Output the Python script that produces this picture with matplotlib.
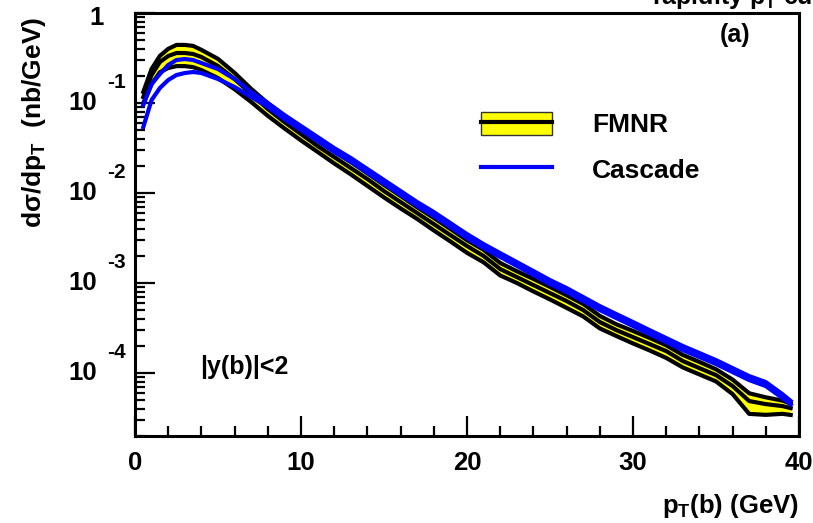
import matplotlib
matplotlib.use('Agg')
import matplotlib.pyplot as plt
import matplotlib.transforms as mtransforms
from matplotlib.ticker import LogLocator, NullFormatter, MultipleLocator, FixedLocator
from matplotlib.patches import Patch
from matplotlib.lines import Line2D
from matplotlib.legend_handler import HandlerTuple

plt.rcParams['font.family'] = ['Liberation Sans', 'DejaVu Sans']
plt.rcParams['font.weight'] = 'bold'
plt.rcParams['mathtext.fontset'] = 'custom'
plt.rcParams['mathtext.rm'] = 'Liberation Sans:bold'
plt.rcParams['mathtext.it'] = 'Liberation Sans:bold'
plt.rcParams['mathtext.bf'] = 'Liberation Sans:bold'

# ---------------- data ----------------
pt = [0.5, 1.0, 1.5, 2.0, 2.5, 3.0, 3.5, 4.0, 5, 6, 7, 8, 9, 10, 11, 12, 13, 14,
      15, 16, 17, 18, 19, 20, 21, 22, 23, 24, 25, 26, 27, 28, 29, 30, 31, 32, 33,
      34, 35, 36, 37, 38, 39, 39.5]

fmnr_central = [0.1166, 0.2047, 0.2855, 0.3330, 0.3594, 0.3594, 0.3503, 0.3246,
                0.2577, 0.1848, 0.1259, 0.0858, 0.0615, 0.0452, 0.0333, 0.0251,
                0.01896, 0.01430, 0.01052, 0.00794, 0.00599, 0.00452, 0.00341,
                0.00258, 0.00200, 0.00143, 0.001166, 9.50e-4, 7.74e-4, 6.31e-4,
                5.01e-4, 3.69e-4, 3.00e-4, 2.51e-4, 2.10e-4, 1.755e-4, 1.36e-4,
                1.136e-4, 9.50e-5, 7.17e-5, 4.89e-5, 4.52e-5, 4.30e-5, 4.08e-5]

# ratio of upper / lower scale variation to central FMNR prediction
fmnr_ratio_up = [1.14, 1.17, 1.17, 1.20, 1.23, 1.23, 1.23, 1.20, 1.20, 1.17, 1.14,
                 1.16, 1.17, 1.17, 1.16, 1.17, 1.17, 1.16, 1.17, 1.17, 1.16, 1.17,
                 1.17, 1.16, 1.17, 1.17, 1.16, 1.17, 1.17, 1.16, 1.17, 1.17, 1.16,
                 1.17, 1.17, 1.16, 1.17, 1.17, 1.16, 1.18, 1.22, 1.19, 1.15, 1.13]
fmnr_ratio_down = [0.86, 0.79, 0.77, 0.735, 0.715, 0.715, 0.715, 0.715, 0.735,
                   0.77, 0.815, 0.84, 0.85, 0.85, 0.86, 0.85, 0.85, 0.84, 0.85,
                   0.85, 0.86, 0.85, 0.85, 0.84, 0.85, 0.85, 0.86, 0.85, 0.85,
                   0.84, 0.85, 0.85, 0.86, 0.85, 0.85, 0.84, 0.85, 0.85, 0.85,
                   0.815, 0.72, 0.76, 0.82, 0.84]

cascade_high = [0.0950, 0.1626, 0.2101, 0.2644, 0.3004, 0.3082, 0.3004, 0.2783,
                0.2386, 0.1848, 0.1325, 0.1000, 0.0736, 0.0555, 0.0419, 0.0316,
                0.0245, 0.01848, 0.01394, 0.01052, 0.00794, 0.00615, 0.00464,
                0.00350, 0.00271, 0.00215, 0.00171, 0.00136, 0.00108, 8.80e-4,
                6.99e-4, 5.55e-4, 4.52e-4, 3.69e-4, 3.00e-4, 2.45e-4, 2.00e-4,
                1.67e-4, 1.394e-4, 1.136e-4, 9.26e-5, 7.94e-5, 5.84e-5, 4.90e-5]

cascade_low = [0.0541, 0.1080, 0.1468, 0.1801, 0.2047, 0.2154, 0.2210, 0.2154,
               0.1848, 0.1506, 0.1166, 0.0903, 0.0664, 0.0501, 0.0378, 0.0285,
               0.0221, 0.01668, 0.01259, 0.00950, 0.00717, 0.00555, 0.00419,
               0.00316, 0.00245, 0.00195, 0.00155, 0.001227, 9.75e-4, 7.94e-4,
               6.31e-4, 5.01e-4, 4.08e-4, 3.33e-4, 2.71e-4, 2.21e-4, 1.80e-4,
               1.506e-4, 1.259e-4, 1.026e-4, 8.36e-5, 7.17e-5, 5.28e-5, 4.45e-5]

y_decades = [1e-4, 1e-3, 1e-2, 1e-1]
y_exponents = ['-4', '-3', '-2', '-1']

fmnr_high = [c * r for c, r in zip(fmnr_central, fmnr_ratio_up)]
fmnr_low = [c * r for c, r in zip(fmnr_central, fmnr_ratio_down)]

# ---------------- figure ----------------
W, H = 813, 523
fig = plt.figure(figsize=(W / 100, H / 100), dpi=100)
L, R, T, B = 135, 799, 13, 436
ax = fig.add_axes([L / W, 1 - B / H, (R - L) / W, (B - T) / H])

YELLOW = '#ffff00'
BLUE = '#0000ff'

ax.fill_between(pt, fmnr_low, fmnr_high, color=YELLOW, lw=0, zorder=1)
for s in (fmnr_high, fmnr_central, fmnr_low):
    ax.plot(pt, s, color='black', lw=3.0, zorder=2, solid_joinstyle='round')
for s in (cascade_high, cascade_low):
    ax.plot(pt, s, color=BLUE, lw=3.0, zorder=3, solid_joinstyle='round')

ax.set_yscale('log')
ax.set_xlim(0, 40)
ax.set_ylim(2e-5, 1.0)

for sp in ax.spines.values():
    sp.set_linewidth(2.2)

ax.xaxis.set_major_locator(MultipleLocator(10))
ax.xaxis.set_minor_locator(MultipleLocator(2))
ax.yaxis.set_major_locator(FixedLocator([1e-4, 1e-3, 1e-2, 1e-1, 1.0]))
ax.yaxis.set_minor_locator(LogLocator(base=10, subs=range(2, 10)))
ax.yaxis.set_major_formatter(NullFormatter())
ax.yaxis.set_minor_formatter(NullFormatter())
ax.tick_params(which='both', direction='in', top=False, right=False)
ax.tick_params(which='major', length=14.4, width=1.6)
ax.tick_params(which='minor', length=7.0, width=1.6)
ax.tick_params(axis='x', which='major', labelsize=18.5, pad=11)

# ROOT style y labels: "10" with exponent above-right
tr = mtransforms.blended_transform_factory(ax.transAxes, ax.transData)
tr_up = mtransforms.offset_copy(tr, fig=fig, x=0, y=21, units='dots')
for v, e in zip(y_decades, y_exponents):
    ax.text((97 - L) / (R - L), v, '10', transform=tr, ha='right', va='center',
            fontsize=18.5, fontweight='bold')
    ax.text((126 - L) / (R - L), v, e, transform=tr_up, ha='right', va='center',
            fontsize=15, fontweight='bold')
tr_one = mtransforms.offset_copy(tr, fig=fig, x=0, y=-5, units='dots')
ax.text((104 - L) / (R - L), 1.0, '1', transform=tr_one, ha='right', va='center',
        fontsize=18.5, fontweight='bold')

ax.set_ylabel('dσ/dp$_{T}$  (nb/GeV)', fontsize=19, fontweight='bold',
              ha='right', va='center')
ax.yaxis.set_label_coords((34 - L) / (R - L), (B - 17) / (B - T))
ax.set_xlabel('p$_{T}$(b) (GeV)', fontsize=18.5, fontweight='bold',
              ha='right', va='center')
ax.xaxis.set_label_coords(1.0, (B - 506) / (B - T))

ax.text((750 - L) / (R - L), (B - 35) / (B - T), '(a)', transform=ax.transAxes,
        ha='right', va='center', fontsize=18, fontweight='bold')
ax.text((200 - L) / (R - L), (B - 367) / (B - T), '|y(b)|<2', transform=ax.transAxes,
        ha='left', va='center', fontsize=18, fontweight='bold')

# partially visible title at the very top (only its lower part is inside the picture)
fig.text(652 / W, 1 - 4 / H, 'rapidity p$_{T}$ cut', ha='left', va='baseline',
         fontsize=18, fontweight='bold')

fmnr_handle = (Patch(facecolor=YELLOW, edgecolor='#333333', linewidth=1.0),
               Line2D([], [], color='black', lw=3.0))
cascade_handle = Line2D([], [], color=BLUE, lw=3.0)
ax.legend([fmnr_handle, cascade_handle], ['FMNR', 'Cascade'],
          handler_map={tuple: HandlerTuple(ndivide=1, pad=0)},
          loc='upper left', bbox_to_anchor=((481 - L) / (R - L), (B - 112) / (B - T)),
          frameon=False, fontsize=19, handlelength=2.7, handleheight=0.95,
          handletextpad=1.5, labelspacing=0.75, borderpad=0, borderaxespad=0)

fig.savefig('out.png', dpi=100)
